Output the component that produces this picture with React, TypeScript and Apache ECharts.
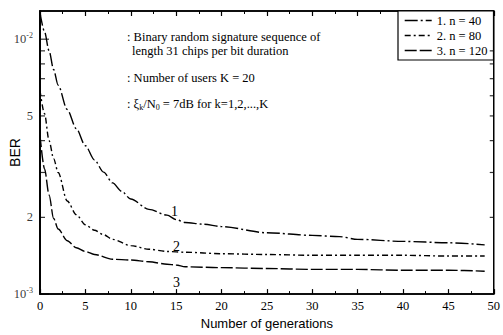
import React, { useEffect, useRef } from "react";
import * as echarts from "echarts";

// ---- data ----
const gen1 = [0, 0.5, 1, 1.5, 2, 3, 4, 5, 6, 7, 8, 9, 10, 12, 14, 15, 16, 18, 20, 25, 30, 33, 35, 40, 45, 49];
const ber1 = [0.0127, 0.0107, 0.009, 0.0076, 0.0066, 0.0053, 0.00446, 0.00382, 0.00336, 0.00301, 0.00273, 0.00253, 0.00236, 0.00215, 0.00204, 0.00196, 0.00191, 0.00188, 0.00184, 0.00174, 0.0017, 0.00168, 0.00164, 0.00161, 0.00159, 0.00156];

const gen2 = [0, 0.5, 1, 1.5, 2, 3, 4, 5, 6, 7, 8, 10, 12, 14, 16, 20, 25, 30, 35, 40, 45, 49];
const ber2 = [0.0063, 0.0051, 0.004, 0.0034, 0.003, 0.00232, 0.00205, 0.00187, 0.00178, 0.00171, 0.00164, 0.00155, 0.0015, 0.00147, 0.00146, 0.00144, 0.00143, 0.00142, 0.00142, 0.00142, 0.00141, 0.00141];

const gen3 = [0, 0.5, 1, 1.5, 2, 3, 4, 5, 6, 8, 10, 12, 14, 15, 16, 20, 25, 30, 35, 40, 45, 49];
const ber3 = [0.0042, 0.0031, 0.00245, 0.00198, 0.0018, 0.00162, 0.00152, 0.00147, 0.00143, 0.00137, 0.00136, 0.00134, 0.00131, 0.0013, 0.00128, 0.00127, 0.00126, 0.00125, 0.00125, 0.00124, 0.00124, 0.00123];

const seriesNames = ["1. n = 40", "2. n = 80", "3. n = 120"];
const curveTags = ["1", "2", "3"];

const yMin = 0.001;
const yMax = 0.0129;
const yMinorTicks = [0.002, 0.003, 0.004, 0.005, 0.006, 0.007, 0.008, 0.009];
const yMajorTicks = [0.001, 0.01];
const yTickLabels = [
  { value: 0.01, text: "{a|10}{s|-2}" },
  { value: 0.005, text: "{a|5}" },
  { value: 0.002, text: "{a|2}" },
  { value: 0.001, text: "{a|10}{s|-3}" },
];

const annotations = [
  ": Binary random signature sequence of",
  "length 31 chips per bit duration",
  ": Number of users K = 20",
];

const SERIF = "Liberation Serif";
const SANS = "Liberation Sans";

function pairs(xs: number[], ys: number[]) {
  return xs.map((x, i) => [x, ys[i]]);
}

export default function App() {
  const ref = useRef<HTMLDivElement>(null);

  useEffect(() => {
    if (!ref.current) return;
    const chart = echarts.init(ref.current, undefined, { renderer: "svg" });

    const lineBase = {
      type: "line",
      xAxisIndex: 0,
      yAxisIndex: 0,
      showSymbol: false,
      symbol: "none",
      smooth: 0.3,
      smoothMonotone: "x",
      clip: true,
      color: "#000",
      itemStyle: { color: "#000" },
    };

    const tickSeries = (x: number, vals: number[], len: number, dir: number) => ({
      type: "scatter",
      xAxisIndex: 0,
      yAxisIndex: 0,
      silent: true,
      clip: false,
      symbol: "rect",
      symbolSize: [len, 1.2],
      symbolOffset: [(dir * len) / 2, 0],
      itemStyle: { color: "#000" },
      data: vals.map((v) => [x, v]),
      z: 5,
    });

    const ANN = 12.5;

    const option: any = {
      animation: false,
      backgroundColor: "#fff",
      color: ["#000"],
      grid: {
        left: 38,
        right: 4,
        top: 11,
        bottom: 32,
        show: true,
        borderColor: "#000",
        borderWidth: 1.5,
        backgroundColor: "transparent",
      },
      legend: {
        orient: "vertical",
        left: 398,
        top: 11,
        padding: [3, 6, 3, 6],
        itemGap: 2,
        itemWidth: 27,
        itemHeight: 14,
        borderColor: "#000",
        borderWidth: 1.2,
        backgroundColor: "#fff",
        itemStyle: { opacity: 0, color: "transparent", borderWidth: 0 },
        lineStyle: { color: "#000", width: 1.4 },
        textStyle: { fontFamily: SERIF, fontSize: 12.5, color: "#000" },
        data: seriesNames,
      },
      xAxis: [
        {
          type: "value",
          min: 0,
          max: 50,
          interval: 5,
          position: "bottom",
          axisLine: { show: true, lineStyle: { color: "#000", width: 1.5 } },
          axisTick: { show: true, inside: true, length: 5, lineStyle: { color: "#000", width: 1.2 } },
          minorTick: { show: true, splitNumber: 2, length: 3, lineStyle: { color: "#000", width: 1 } },
          splitLine: { show: false },
          axisLabel: { color: "#000", fontFamily: SERIF, fontSize: 12.5, margin: 5, showMaxLabel: true },
          name: "Number of generations",
          nameLocation: "middle",
          nameGap: 17,
          nameTextStyle: { fontFamily: SANS, fontSize: 13, color: "#000" },
        },
        {
          type: "value",
          min: 0,
          max: 50,
          interval: 5,
          position: "top",
          axisLine: { show: true, lineStyle: { color: "#000", width: 1.5 } },
          axisTick: { show: true, inside: true, length: 5, lineStyle: { color: "#000", width: 1.2 } },
          minorTick: { show: true, splitNumber: 2, length: 3, lineStyle: { color: "#000", width: 1 } },
          splitLine: { show: false },
          axisLabel: { show: false },
        },
      ],
      yAxis: [
        {
          type: "log",
          logBase: 10,
          min: yMin,
          max: yMax,
          position: "left",
          axisLine: { show: true, lineStyle: { color: "#000", width: 1.5 } },
          axisTick: { show: false },
          minorTick: { show: false },
          axisLabel: { show: false },
          splitLine: { show: false },
          name: "BER",
          nameLocation: "middle",
          nameGap: 18,
          nameRotate: 90,
          nameTextStyle: { fontFamily: SANS, fontSize: 14, color: "#000" },
        },
        {
          type: "log",
          logBase: 10,
          min: yMin,
          max: yMax,
          position: "right",
          axisLine: { show: true, lineStyle: { color: "#000", width: 1.5 } },
          axisTick: { show: false },
          axisLabel: { show: false },
          splitLine: { show: false },
        },
      ],
      series: [
        {
          ...lineBase,
          name: seriesNames[0],
          data: pairs(gen1, ber1),
          lineStyle: { color: "#000", width: 1.4, type: [13, 3, 2, 3] },
        },
        {
          ...lineBase,
          name: seriesNames[1],
          data: pairs(gen2, ber2),
          lineStyle: { color: "#000", width: 1.4, type: [6, 3, 2, 3] },
        },
        {
          ...lineBase,
          name: seriesNames[2],
          data: pairs(gen3, ber3),
          lineStyle: { color: "#000", width: 1.4, type: [12, 3] },
        },
        tickSeries(0, yMinorTicks, 5, 1),
        tickSeries(0, yMajorTicks, 9, 1),
        tickSeries(50, yMinorTicks, 4, -1),
        {
          type: "scatter",
          xAxisIndex: 0,
          yAxisIndex: 0,
          silent: true,
          clip: false,
          symbol: "rect",
          symbolSize: 0,
          data: yTickLabels.map((t) => ({
            value: [0, t.value],
            label: { formatter: t.text },
          })),
          label: {
            show: true,
            position: "left",
            distance: 7,
            color: "#000",
            rich: {
              a: { fontFamily: SERIF, fontSize: 12.5, color: "#000" },
              s: { fontFamily: SERIF, fontSize: 8, color: "#000", padding: [0, 0, 8, 0] },
            },
          },
        },
      ],
      graphic: [
        ...curveTags.map((t, i) => ({
          type: "text",
          x: [171, 173, 173][i],
          y: [204, 239, 275][i],
          style: { text: t, fontFamily: SERIF, fontSize: 14, fill: "#000" },
          z: 10,
        })),
        {
          type: "text",
          x: 127,
          y: 30,
          style: { text: annotations[0], fontFamily: SERIF, fontSize: ANN, fill: "#000" },
        },
        {
          type: "text",
          x: 132,
          y: 44,
          style: { text: annotations[1], fontFamily: SERIF, fontSize: ANN, fill: "#000" },
        },
        {
          type: "text",
          x: 127,
          y: 71,
          style: { text: annotations[2], fontFamily: SERIF, fontSize: ANN, fill: "#000" },
        },
        {
          type: "text",
          x: 127,
          y: 96,
          style: {
            text: "{n|: ξ}{b|k}{n|/N}{b|0}{n| = 7dB for k=1,2,...,K}",
            fontFamily: SERIF,
            fontSize: ANN,
            fill: "#000",
            rich: {
              n: { fontFamily: SERIF, fontSize: ANN, fill: "#000" },
              b: { fontFamily: SERIF, fontSize: 8, fill: "#000", padding: [7, 0, 0, 0] },
            },
          },
        },
      ],
    };

    chart.setOption(option);
    return () => chart.dispose();
  }, []);

  return (
    <div
      ref={ref}
      style={{ position: "absolute", left: 0, top: 0, width: 503, height: 335, background: "#fff" }}
    />
  );
}
